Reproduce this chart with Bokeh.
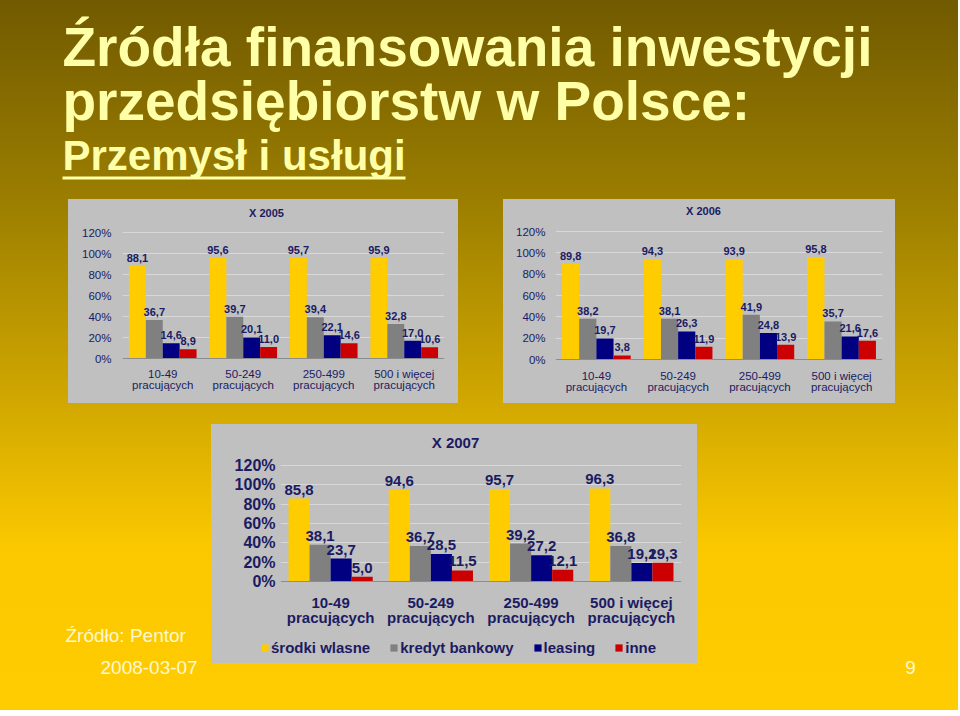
from bokeh.plotting import figure
from bokeh.models import (Range1d, FactorRange, ColumnDataSource, FixedTicker, Label,
                          BoxAnnotation, Legend, LegendItem, Spacer, Span)
from bokeh.layouts import row, column
from bokeh.transform import dodge
from bokeh.embed import file_html
from bokeh.resources import INLINE
from bokeh.core.properties import value

# ---------------- data ----------------
groups = ["10-49\npracujących", "50-249\npracujących", "250-499\npracujących",
          "500 i więcej\npracujących"]
series = ["środki wlasne", "kredyt bankowy", "leasing", "inne"]
colors = ["#FFCC00", "#808080", "#000080", "#CC0000"]
y_ticks = [0, 20, 40, 60, 80, 100, 120]
y_tick_labels = ["0%", "20%", "40%", "60%", "80%", "100%", "120%"]

own_2005 = [88.1, 95.6, 95.7, 95.9]
credit_2005 = [36.7, 39.7, 39.4, 32.8]
leasing_2005 = [14.6, 20.1, 22.1, 17.0]
other_2005 = [8.9, 11.0, 14.6, 10.6]

own_2006 = [89.8, 94.3, 93.9, 95.8]
credit_2006 = [38.2, 38.1, 41.9, 35.7]
leasing_2006 = [19.7, 26.3, 24.8, 21.6]
other_2006 = [3.8, 11.9, 13.9, 17.6]

own_2007 = [85.8, 94.6, 95.7, 96.3]
credit_2007 = [38.1, 36.7, 39.2, 36.8]
leasing_2007 = [23.7, 28.5, 27.2, 19.2]
other_2007 = [5.0, 11.5, 12.1, 19.3]

NAVY = "#1b1b62"
PANEL = "#C0C0C0"
FONT = "Liberation Sans"
TITLE_COLOR = "#FFFFA8"
FOOT_COLOR = "#FFF8D2"


def fmt(v):
    return f"{v:.1f}".replace(".", ",")


def make_chart(title, vals, box, frame_x, y_px, fs, tfs, cfs, tick_bold, title_xy,
               cat_offset, cat_lh, standoff_y):
    fx0, fy0, fx1, fy1 = box
    width, height = fx1 - fx0, fy1 - fy0
    y0_px, y120_px = y_px
    k = 120.0 / (y0_px - y120_px)
    y_start = -(fy1 - y0_px) * k
    y_end = 120 + (y120_px - fy0) * k

    p = figure(width=width, height=height, x_range=FactorRange(factors=groups),
               y_range=Range1d(y_start, y_end), x_axis_location=None, title=None,
               output_backend="svg", toolbar_location=None,
               min_border_left=frame_x[0] - fx0, min_border_right=fx1 - frame_x[1],
               min_border_top=0, min_border_bottom=0,
               styles={"background-color": PANEL})
    p.background_fill_color = PANEL
    p.border_fill_color = PANEL
    p.outline_line_color = None
    p.xgrid.visible = False
    p.ygrid.grid_line_color = "#d8d8d8"

    p.yaxis.ticker = FixedTicker(ticks=y_ticks)
    p.yaxis.major_label_overrides = dict(zip(y_ticks, y_tick_labels))
    p.yaxis.axis_line_color = None
    p.yaxis.major_tick_line_color = None
    p.yaxis.minor_tick_line_color = None
    p.yaxis.major_tick_out = 0
    p.yaxis.minor_tick_out = 0
    p.yaxis.major_label_standoff = standoff_y
    p.yaxis.major_label_text_font = FONT
    p.yaxis.major_label_text_font_size = tfs
    p.yaxis.major_label_text_font_style = "bold" if tick_bold else "normal"
    p.yaxis.major_label_text_color = NAVY

    p.add_layout(Span(location=0, dimension="width", line_color="#8c8c8c", line_width=1))

    data = dict(g=groups)
    keys = []
    for i, arr in enumerate(vals):
        kk = f"s{i}"
        keys.append(kk)
        data[kk] = arr
        data[kk + "_lbl"] = [fmt(v) for v in arr]
    src = ColumnDataSource(data)

    offsets = [-0.315, -0.105, 0.105, 0.315]
    for i, kk in enumerate(keys):
        p.vbar(x=dodge("g", offsets[i], range=p.x_range), top=kk, width=0.21,
               source=src, fill_color=colors[i], line_color=None)
    for i, kk in enumerate(keys):
        p.text(x=dodge("g", offsets[i], range=p.x_range), y=kk, text=kk + "_lbl",
               source=src, text_align="center", text_baseline="bottom",
               y_offset=-4, text_font=value(FONT), text_font_style="bold",
               text_font_size=fs, text_color=NAVY)

    # category labels under the baseline
    p.text(x="g", y=0, text="g", source=src, text_align="center", text_baseline="top",
           y_offset=cat_offset, text_line_height=cat_lh, text_font=value(FONT),
           text_font_style="bold" if tick_bold else "normal", text_font_size=cfs,
           text_color=NAVY)

    p.add_layout(Label(x=title_xy[0], y=title_xy[1], x_units="screen", y_units="screen",
                       text=title, text_align="center", text_baseline="middle",
                       text_font=FONT, text_font_style="bold", text_font_size=fs,
                       text_color=NAVY))
    return p


def deco(width, height, fill=None):
    kw = {}
    if fill is not None:
        kw["styles"] = {"background-color": fill}
    p = figure(width=width, height=height, x_range=Range1d(0, width),
               y_range=Range1d(0, height), x_axis_type=None, y_axis_type=None,
               title=None, output_backend="svg", toolbar_location=None, min_border=0,
               **kw)
    p.background_fill_color = fill
    p.border_fill_color = fill
    p.outline_line_color = None
    p.grid.visible = False
    return p


# ---------------- title ----------------
title_fig = deco(958, 199)
for txt, y, size in [("Źródła finansowania inwestycji", 153, "55px"),
                     ("przedsiębiorstw w Polsce:", 99, "55px"),
                     ("Przemysł i usługi", 44, "42px")]:
    title_fig.add_layout(Label(x=62, y=y, x_units="screen", y_units="screen", text=txt,
                               text_align="left", text_baseline="middle",
                               text_font=FONT, text_font_style="bold",
                               text_font_size=size, text_color=TITLE_COLOR))
title_fig.add_layout(BoxAnnotation(left=62, right=405, bottom=20, top=23,
                                   left_units="screen", right_units="screen",
                                   bottom_units="screen", top_units="screen",
                                   fill_color=TITLE_COLOR, fill_alpha=1, line_color=None))

# ---------------- charts ----------------
c1 = make_chart("X 2005", [own_2005, credit_2005, leasing_2005, other_2005],
                (68, 199, 458, 403), (122, 444), (358, 232), "11px", "11.5px", "11.5px",
                False, (144, 191), 9, 0.95, 11)
c2 = make_chart("X 2006", [own_2006, credit_2006, leasing_2006, other_2006],
                (503, 199, 895, 403), (555, 882), (359, 231), "11px", "11.5px", "11.5px",
                False, (148, 193), 10, 0.95, 10)
c3 = make_chart("X 2007", [own_2007, credit_2007, leasing_2007, other_2007],
                (211, 424, 697, 638), (280, 681), (581, 465), "15px", "16px", "15px",
                True, (175, 196), 12, 0.9, 5)

# legend strip of the third chart
leg_fig = deco(486, 25, fill=PANEL)
leg_src = ColumnDataSource(dict(x=[0], top=[0]))
leg_rends = []
for i in range(4):
    leg_rends.append(leg_fig.vbar(x="x", top="top", width=0, source=leg_src,
                                  fill_color=colors[i], line_color=None))
legend = Legend(items=[LegendItem(label=series[i], renderers=[leg_rends[i]])
                       for i in range(4)],
                orientation="horizontal", location=(49, 7),
                glyph_width=9, glyph_height=9, label_standoff=2, spacing=19,
                padding=0, margin=0, label_height=18,
                border_line_color=None, background_fill_alpha=0,
                label_text_font=FONT, label_text_font_style="bold",
                label_text_font_size="15px", label_text_color=NAVY)
leg_fig.add_layout(legend)

# ---------------- footer ----------------
left_fig = deco(211, 286)
left_fig.add_layout(Label(x=65, y=75, x_units="screen", y_units="screen",
                          text="Źródło: Pentor", text_baseline="middle",
                          text_font=FONT, text_font_size="19px", text_color=FOOT_COLOR))
left_fig.add_layout(Label(x=100, y=43, x_units="screen", y_units="screen",
                          text="2008-03-07", text_baseline="middle",
                          text_font=FONT, text_font_size="19px", text_color=FOOT_COLOR))
right_fig = deco(261, 286)
right_fig.add_layout(Label(x=213, y=43, x_units="screen", y_units="screen",
                           text="9", text_align="center", text_baseline="middle",
                           text_font=FONT, text_font_size="19px", text_color=FOOT_COLOR))

chart3_block = column(c3, row(leg_fig), styles={"background-color": PANEL})

layout = column(
    title_fig,
    row(Spacer(width=68, height=204), c1, Spacer(width=45, height=204), c2,
        Spacer(width=63, height=204)),
    Spacer(width=958, height=21),
    row(left_fig, column(chart3_block, Spacer(width=486, height=47)), right_fig),
    styles={"background": "linear-gradient(to bottom, #715a00 0%, #9b7e00 28%, "
                          "#d4aa00 58%, #fbc800 77%, #ffcc00 100%)"},
)

open("out.html", "w").write(file_html(layout, INLINE))
